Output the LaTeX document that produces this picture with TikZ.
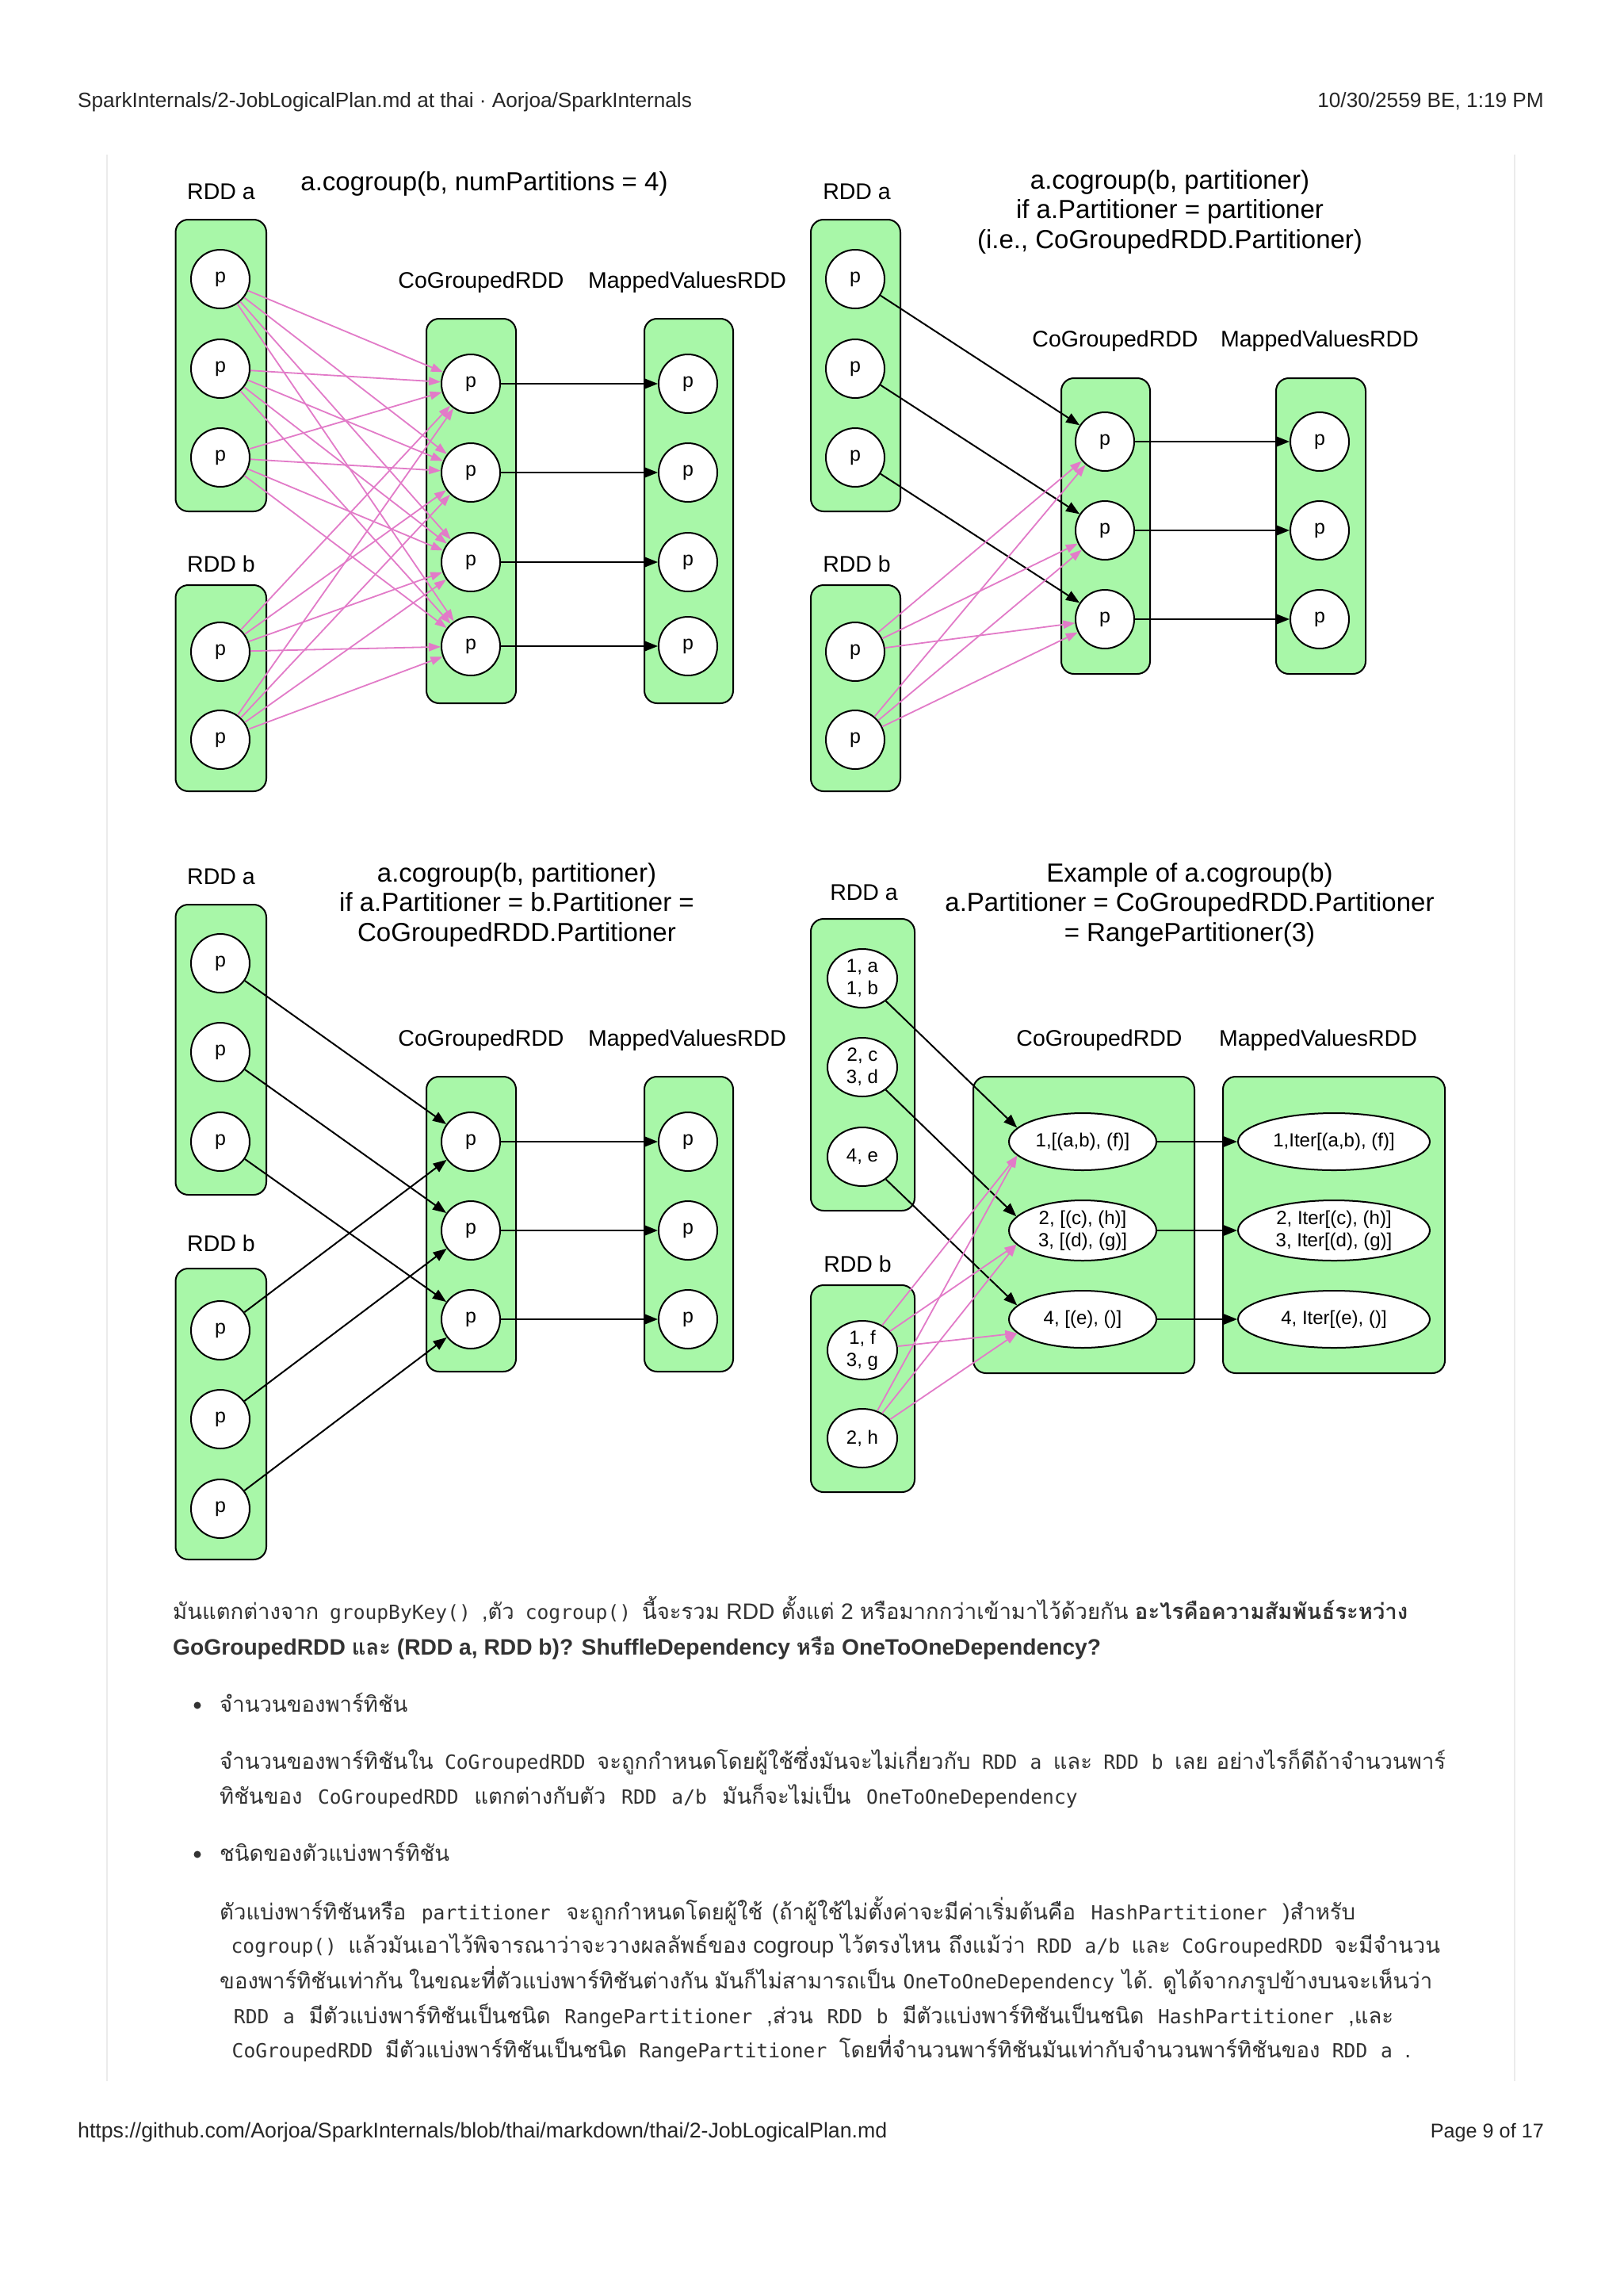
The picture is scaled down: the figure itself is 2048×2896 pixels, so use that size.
\documentclass[tikz,border=0pt]{standalone}
\usepackage{fontspec}
\setmainfont{Liberation Sans}
\newfontfamily\thaifont[Script=Thai,Scale=0.975]{Loma}
\newfontfamily\codefont{DejaVu Sans Mono}
\usetikzlibrary{arrows.meta,shapes.geometric,fit}
\definecolor{rddgreen}{HTML}{A8F7A8}
\definecolor{pinkedge}{HTML}{E27BC8}
\definecolor{bodytxt}{HTML}{333333}
\definecolor{rulegray}{HTML}{EBEBEB}
\newcommand{\thx}[1]{{\thaifont #1}}
\newcommand{\cdx}[1]{\hspace{12pt plus 14pt minus 5pt}{\codefont\fontsize{24.6}{44}\selectfont #1}\hspace{12pt plus 14pt minus 5pt}}
\newcommand{\fitline}[2]{\hbox to #1pt{#2}}
\tikzset{
  box/.style={draw=black, fill=rddgreen, rounded corners=16pt, line width=2pt, inner sep=0pt},
  pn/.style={circle, draw=black, fill=white, line width=2pt, minimum size=74pt, inner sep=0pt, font=\fontsize{25}{30}\selectfont},
  en/.style={ellipse, draw=black, fill=white, line width=2pt, inner sep=0pt, font=\fontsize{24}{28}\selectfont, align=center},
  lbl/.style={font=\fontsize{28.5}{34}\selectfont, inner sep=0pt},
  ttl/.style={font=\fontsize{33}{37.5}\selectfont, align=center, inner sep=0pt},
  blk/.style={draw=black, line width=2pt, -{Triangle[length=17pt,width=13pt]}},
  pnk/.style={draw=pinkedge, line width=1.8pt, -{Triangle[length=15pt,width=10.5pt]}},
  bodyline/.style={anchor=base west, inner sep=0pt, text=bodytxt, font=\fontsize{28.2}{44}\selectfont},
  hdr/.style={inner sep=0pt, text=black!85, font=\fontsize{26.2}{30}\selectfont},
}
\begin{document}
\begin{tikzpicture}[x=1pt,y=-1pt]
\useasboundingbox (0,0) rectangle (2048,2896);
\fill[white] (0,0) rectangle (2048,2896);
% page frame lines
\draw[rulegray, line width=2pt] (134.5,195) -- (134.5,2625);
\draw[rulegray, line width=2pt] (1910.5,195) -- (1910.5,2625);
% header / footer
\node[hdr, anchor=base west] (hl) at (98,135) {SparkInternals/2-JobLogicalPlan.md at thai · Aorjoa/SparkInternals};
\node[hdr, anchor=base east] (hr) at (1948,135) {10/30/2559 BE, 1:19 PM};
\node[hdr, anchor=base west, font=\fontsize{26.7}{30}\selectfont] (fl) at (98,2696) {https://github.com/Aorjoa/SparkInternals/blob/thai/markdown/thai/2-JobLogicalPlan.md};
\node[hdr, anchor=base east, font=\fontsize{25.2}{30}\selectfont] (fr) at (1948,2696) {Page 9 of 17};

% ================= Panel 1 =================
\node[box, fit={(221.5,277)(336,645)}] (p1A) {};
\node[box, fit={(221.5,738)(336,998)}] (p1B) {};
\node[box, fit={(538,402)(651,887)}] (p1C) {};
\node[box, fit={(813,402)(925,887)}] (p1M) {};
\node[ttl] (p1t) at (611,232) {a.cogroup(b, numPartitions = 4)};
\node[lbl] (p1la) at (279,242) {RDD a};
\node[lbl] (p1lb) at (279,711) {RDD b};
\node[lbl] (p1lc) at (607,356) {CoGroupedRDD};
\node[lbl] (p1lm) at (867,356) {MappedValuesRDD};
\node[pn] (p1a0) at (278,352) {p};
\node[pn] (p1a1) at (278,465) {p};
\node[pn] (p1a2) at (278,577) {p};
\node[pn] (p1b0) at (278,822) {p};
\node[pn] (p1b1) at (278,933) {p};
\node[pn] (p1c0) at (594,484) {p};
\node[pn] (p1c1) at (594,596) {p};
\node[pn] (p1c2) at (594,709) {p};
\node[pn] (p1c3) at (594,815) {p};
\node[pn] (p1m0) at (868,484) {p};
\node[pn] (p1m1) at (868,596) {p};
\node[pn] (p1m2) at (868,709) {p};
\node[pn] (p1m3) at (868,815) {p};
\foreach \s in {p1a0,p1a1,p1a2,p1b0,p1b1}
  \foreach \t in {p1c0,p1c1,p1c2,p1c3}
    \draw[pnk] (\s) -- (\t);
\foreach \i in {0,1,2,3}
  \draw[blk] (p1c\i) -- (p1m\i);

% ================= Panel 2 =================
\node[box, fit={(1023,277)(1136,645)}] (p2A) {};
\node[box, fit={(1023,738)(1136,998)}] (p2B) {};
\node[box, fit={(1339,477)(1451,850)}] (p2C) {};
\node[box, fit={(1610,477)(1723,850)}] (p2M) {};
\node[ttl] (p2t) at (1476,267) {a.cogroup(b, partitioner)\\if a.Partitioner = partitioner\\(i.e., CoGroupedRDD.Partitioner)};
\node[lbl] (p2la) at (1081,242) {RDD a};
\node[lbl] (p2lb) at (1081,711) {RDD b};
\node[lbl] (p2lc) at (1407,430) {CoGroupedRDD};
\node[lbl] (p2lm) at (1665,430) {MappedValuesRDD};
\node[pn] (p2a0) at (1079,352) {p};
\node[pn] (p2a1) at (1079,465) {p};
\node[pn] (p2a2) at (1079,577) {p};
\node[pn] (p2b0) at (1079,822) {p};
\node[pn] (p2b1) at (1079,933) {p};
\node[pn] (p2c0) at (1394,557) {p};
\node[pn] (p2c1) at (1394,669) {p};
\node[pn] (p2c2) at (1394,781) {p};
\node[pn] (p2m0) at (1665,557) {p};
\node[pn] (p2m1) at (1665,669) {p};
\node[pn] (p2m2) at (1665,781) {p};
\foreach \i in {0,1,2} {
  \draw[blk] (p2a\i) -- (p2c\i);
  \draw[blk] (p2c\i) -- (p2m\i);
}
\foreach \s in {p2b0,p2b1}
  \foreach \t in {p2c0,p2c1,p2c2}
    \draw[pnk] (\s) -- (\t);

% ================= Panel 3 =================
\node[box, fit={(221.5,1141)(336,1507)}] (p3A) {};
\node[box, fit={(221.5,1600)(336,1967)}] (p3B) {};
\node[box, fit={(538,1358)(651,1730)}] (p3C) {};
\node[box, fit={(813,1358)(925,1730)}] (p3M) {};
\node[ttl] (p3t) at (652,1141) {a.cogroup(b, partitioner)\\if a.Partitioner = b.Partitioner =\\CoGroupedRDD.Partitioner};
\node[lbl] (p3la) at (279,1106) {RDD a};
\node[lbl] (p3lb) at (279,1568) {RDD b};
\node[lbl] (p3lc) at (607,1312) {CoGroupedRDD};
\node[lbl] (p3lm) at (867,1312) {MappedValuesRDD};
\node[pn] (p3a0) at (278,1215) {p};
\node[pn] (p3a1) at (278,1327) {p};
\node[pn] (p3a2) at (278,1440) {p};
\node[pn] (p3b0) at (278,1678) {p};
\node[pn] (p3b1) at (278,1790) {p};
\node[pn] (p3b2) at (278,1903) {p};
\node[pn] (p3c0) at (594,1440) {p};
\node[pn] (p3c1) at (594,1552) {p};
\node[pn] (p3c2) at (594,1664) {p};
\node[pn] (p3m0) at (868,1440) {p};
\node[pn] (p3m1) at (868,1552) {p};
\node[pn] (p3m2) at (868,1664) {p};
\foreach \i in {0,1,2} {
  \draw[blk] (p3a\i) -- (p3c\i);
  \draw[blk] (p3b\i) -- (p3c\i);
  \draw[blk] (p3c\i) -- (p3m\i);
}

% ================= Panel 4 =================
\node[box, fit={(1023,1159)(1154,1527)}] (p4A) {};
\node[box, fit={(1023,1621)(1154,1882)}] (p4B) {};
\node[box, fit={(1228,1358)(1507,1732)}] (p4C) {};
\node[box, fit={(1543,1358)(1823,1732)}] (p4M) {};
\node[ttl] (p4t) at (1501,1141) {Example of a.cogroup(b)\\a.Partitioner = CoGroupedRDD.Partitioner\\= RangePartitioner(3)};
\node[lbl] (p4la) at (1090,1126) {RDD a};
\node[lbl] (p4lb) at (1082,1594) {RDD b};
\node[lbl] (p4lc) at (1387,1312) {CoGroupedRDD};
\node[lbl] (p4lm) at (1663,1312) {MappedValuesRDD};
\node[en, minimum width=88pt, minimum height=74pt] (p4a0) at (1088,1234) {1, a\\1, b};
\node[en, minimum width=88pt, minimum height=74pt] (p4a1) at (1088,1346) {2, c\\3, d};
\node[en, minimum width=88pt, minimum height=74pt] (p4a2) at (1088,1459) {4, e};
\node[en, minimum width=88pt, minimum height=74pt] (p4b0) at (1088,1703) {1, f\\3, g};
\node[en, minimum width=88pt, minimum height=74pt] (p4b1) at (1088,1814) {2, h};
\node[en, minimum width=186pt, minimum height=72pt] (p4c0) at (1366,1440) {1,[(a,b), (f)]};
\node[en, minimum width=186pt, minimum height=76pt] (p4c1) at (1366,1552) {2, [(c), (h)]\\3, [(d), (g)]};
\node[en, minimum width=186pt, minimum height=72pt] (p4c2) at (1366,1664) {4, [(e), ()]};
\node[en, minimum width=242pt, minimum height=72pt] (p4m0) at (1683,1440) {1,Iter[(a,b), (f)]};
\node[en, minimum width=242pt, minimum height=76pt] (p4m1) at (1683,1552) {2, Iter[(c), (h)]\\3, Iter[(d), (g)]};
\node[en, minimum width=242pt, minimum height=72pt] (p4m2) at (1683,1664) {4, Iter[(e), ()]};
\foreach \i in {0,1,2} {
  \draw[blk] (p4a\i) -- (p4c\i.168);
  \draw[blk] (p4c\i) -- (p4m\i);
}
\foreach \s in {p4b0,p4b1}
  \foreach \t in {p4c0,p4c1,p4c2}
    \draw[pnk] (\s) -- (\t.192);

% ================= Body text =================
\node[bodyline] (t1) at (218,2042) {\fitline{1558}{\thx{มันแตกต่างจาก}\cdx{groupByKey()},\thx{ตัว}\cdx{cogroup()}\thx{นี้จะรวม} RDD \thx{ตั้งแต่} 2 \thx{หรือมากกว่าเข้ามาไว้ด้วยกัน} {\bfseries\thx{อะไรคือความสัมพันธ์ระหว่าง}}}};
\node[bodyline] (t2) at (218,2087) {\bfseries GoGroupedRDD \thx{และ} (RDD a, RDD b)? ShuffleDependency \thx{หรือ} OneToOneDependency?};
\fill[bodytxt] (249,2151) circle (4.5pt);
\node[bodyline] (t3) at (277,2159) {\thx{จำนวนของพาร์ทิชัน}};
\node[bodyline] (t4) at (277,2231) {\fitline{1547}{\thx{จำนวนของพาร์ทิชันใน}\cdx{CoGroupedRDD}\thx{จะถูกกำหนดโดยผู้ใช้ซึ่งมันจะไม่เกี่ยวกับ}\cdx{RDD a}\thx{และ}\cdx{RDD b}\thx{เลย อย่างไรก็ดีถ้าจำนวนพาร์}}};
\node[bodyline] (t5) at (277,2275) {\fitline{1102}{\thx{ทิชันของ}\cdx{CoGroupedRDD}\thx{แตกต่างกับตัว}\cdx{RDD a/b}\thx{มันก็จะไม่เป็น}\cdx{OneToOneDependency}}};
\fill[bodytxt] (249,2339) circle (4.5pt);
\node[bodyline] (t6) at (277,2347) {\thx{ชนิดของตัวแบ่งพาร์ทิชัน}};
\node[bodyline] (t7) at (277,2421) {\fitline{1433}{\thx{ตัวแบ่งพาร์ทิชันหรือ}\cdx{partitioner}\thx{จะถูกกำหนดโดยผู้ใช้ (ถ้าผู้ใช้ไม่ตั้งค่าจะมีค่าเริ่มต้นคือ}\cdx{HashPartitioner})\thx{สำหรับ}}};
\node[bodyline] (t8) at (277,2463) {\fitline{1540}{\cdx{cogroup()}\thx{แล้วมันเอาไว้พิจารณาว่าจะวางผลลัพธ์ของ} cogroup \thx{ไว้ตรงไหน ถึงแม้ว่า}\cdx{RDD a/b}\thx{และ}\cdx{CoGroupedRDD}\thx{จะมีจำนวน}}};
\node[bodyline] (t9) at (277,2508) {\fitline{1530}{\thx{ของพาร์ทิชันเท่ากัน ในขณะที่ตัวแบ่งพาร์ทิชันต่างกัน มันก็ไม่สามารถเป็น}\cdx{OneToOneDependency}\thx{ได้. ดูได้จากภรูปข้างบนจะเห็นว่า}}};
\node[bodyline] (t10) at (277,2552) {\fitline{1481}{\cdx{RDD a}\thx{มีตัวแบ่งพาร์ทิชันเป็นชนิด}\cdx{RangePartitioner},\thx{ส่วน}\cdx{RDD b}\thx{มีตัวแบ่งพาร์ทิชันเป็นชนิด}\cdx{HashPartitioner},\thx{และ}}};
\node[bodyline] (t11) at (277,2595) {\fitline{1503}{\cdx{CoGroupedRDD}\thx{มีตัวแบ่งพาร์ทิชันเป็นชนิด}\cdx{RangePartitioner}\thx{โดยที่จำนวนพาร์ทิชันมันเท่ากับจำนวนพาร์ทิชันของ}\cdx{RDD a}.}};
\end{tikzpicture}
\end{document}
